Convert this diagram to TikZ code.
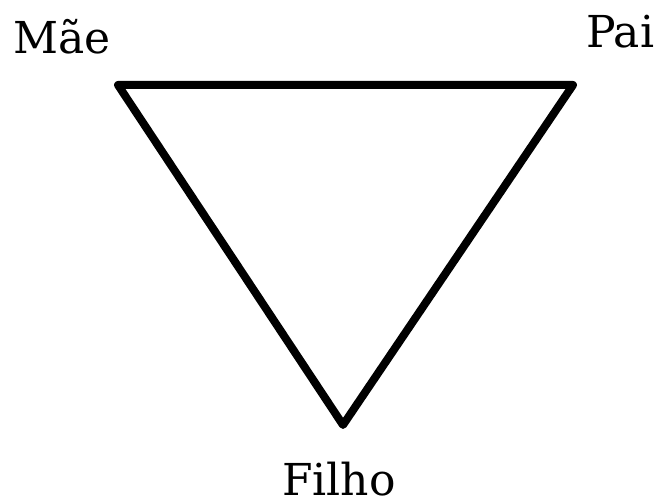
\documentclass[tikz,border=0pt]{standalone}
\usepackage{fontspec}
\setmainfont{DejaVu Serif}
\begin{document}
\begin{tikzpicture}[x=0.75pt, y=-0.75pt]
      \useasboundingbox (0,0) rectangle (665,498);
      \tikzset{rotulo/.style={anchor=base west, inner sep=0pt, font=\fontsize{33}{40}\selectfont}}
      \coordinate (m) at (118,85);
      \coordinate (p) at (573,85);
      \coordinate (f) at (343,425);
      \draw[line width=6pt, line join=round] (m) -- (p) -- (f) -- cycle;
      \node[rotulo] (mae) at (13,54) {Mãe};
      \node[rotulo] (pai) at (586,48) {Pai};
      \node[rotulo] (filho) at (282,496) {Filho};
    \end{tikzpicture}
\end{document}
